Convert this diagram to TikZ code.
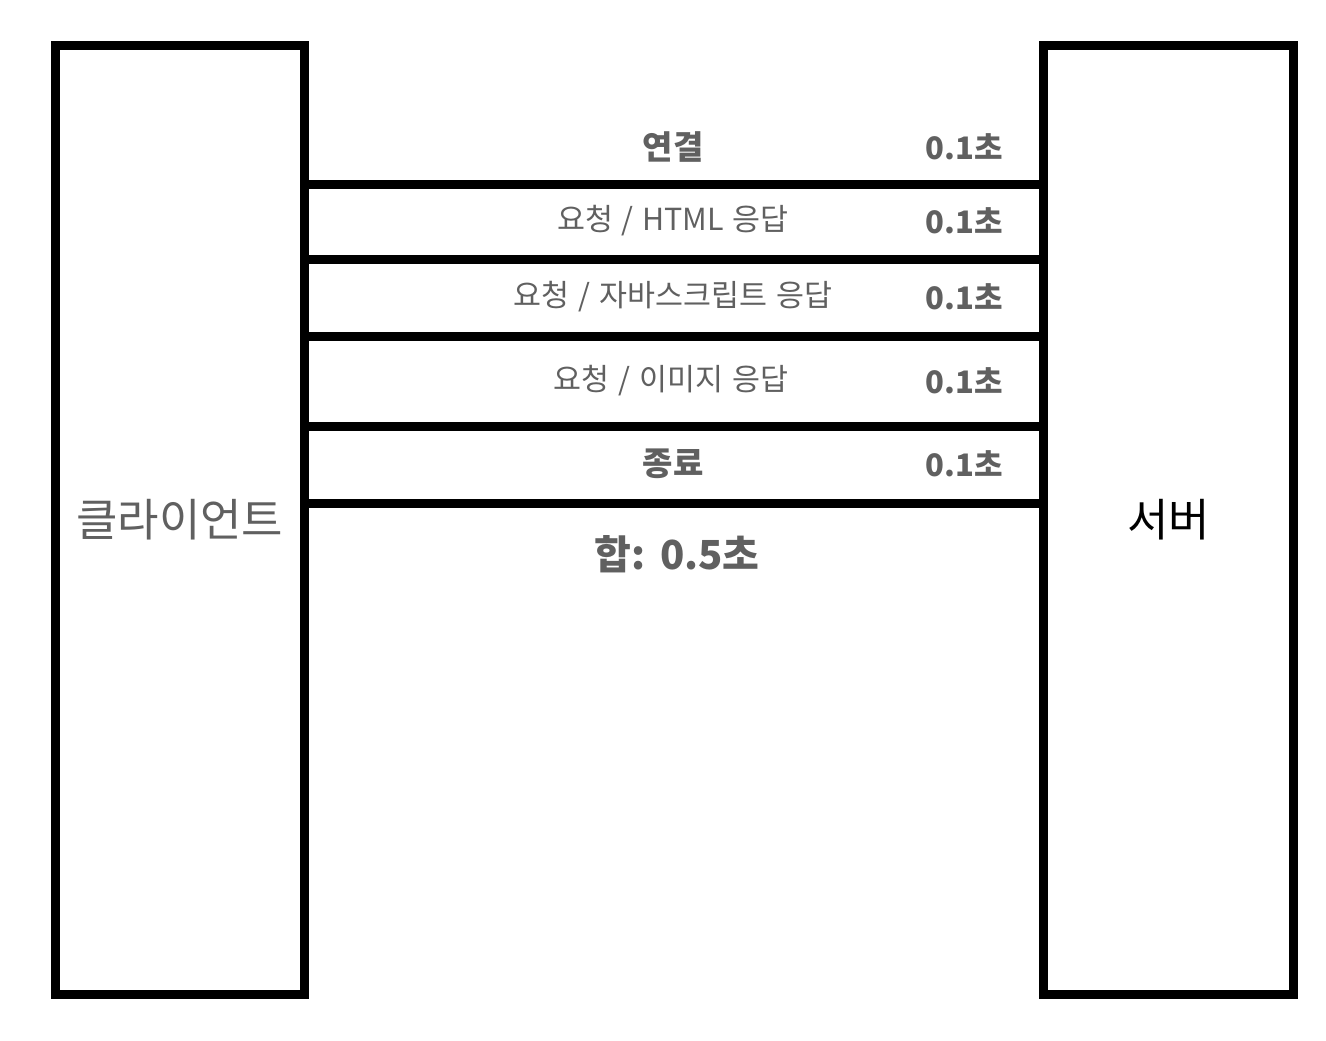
\documentclass[tikz,border=0pt]{standalone}
\usepackage{fontspec}
\setmainfont{Noto Sans CJK KR}[WordSpace=1.3]
\usepackage{xcolor}
\usetikzlibrary{positioning,calc}
\definecolor{labelgray}{RGB}{96,96,96}

\begin{document}
\begin{tikzpicture}[x=0.5pt, y=-0.5pt, font=\fontsize{15.2}{18}\selectfont]
  \tikzset{host/.style={draw, line width=4.5pt, minimum width=124.75pt, minimum height=474.5pt, inner sep=0pt, font=\fontsize{22.5}{26}\selectfont},
    divider/.style={line width=4.5pt},
    phase/.style={text=labelgray, anchor=center, inner sep=0pt},
    cost/.style={text=labelgray, anchor=center, inner sep=0pt, font=\fontsize{15.5}{18}\selectfont\bfseries}}
  \useasboundingbox (0,0) rectangle (1326,1040);
  \node[host, text=labelgray] (client) at (179.75,520) {클라이언트};
  \node[host] (server) at (1168.5,520) {서버};
  \foreach \y in {184,259,336,426,503}
    \draw[divider] (client.east |- 0,\y) -- (server.west |- 0,\y);
  \node[phase, font=\fontsize{16.5}{18}\selectfont\bfseries] (connect) at (673,147) {연결};
  \node[phase] (html) at (673,221) {요청 / HTML 응답};
  \node[phase] (script) at (673,297) {요청 / 자바스크립트 응답};
  \node[phase] (image) at (671,381) {요청 / 이미지 응답};
  \node[phase, font=\fontsize{16.5}{18}\selectfont\bfseries] (close) at (673,464) {종료};
  \foreach \n/\y in {t1/147,t2/221,t3/297,t4/381,t5/464}
    \node[cost] (\n) at (964,\y) {0.1초};
  \node[phase, font=\fontsize{20}{24}\selectfont\bfseries] (total) at (677,554) {합: 0.5초};
\end{tikzpicture}
\end{document}
